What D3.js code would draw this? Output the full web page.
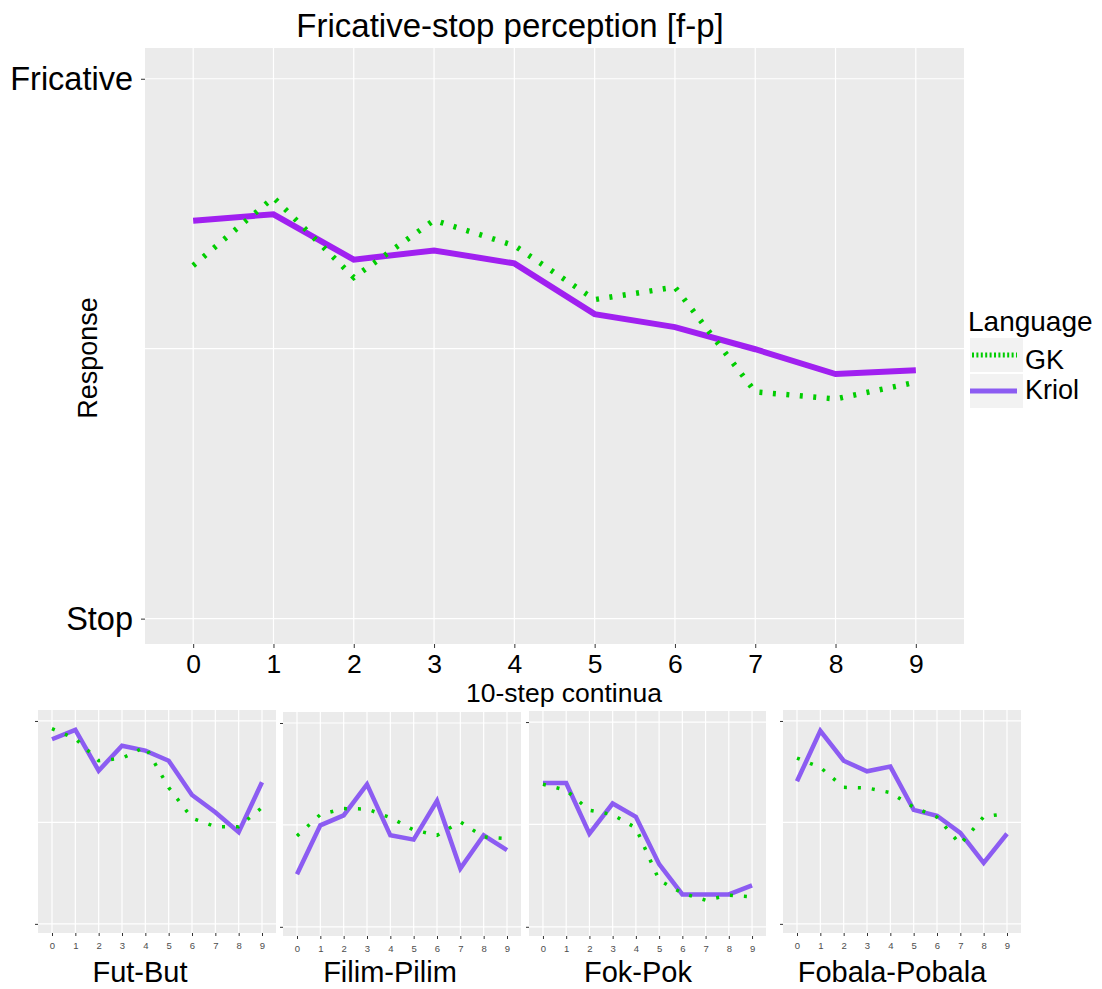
<!DOCTYPE html>
<html lang="en">
<head>
<meta charset="UTF-8">
<title>Fricative-stop perception [f-p]</title>
<style>
    body {
        margin: 0;
        background: #fff;
        font-family: "Liberation Sans", Arial, sans-serif;
    }

    .panel-bg {
        fill: #ebebeb;
    }

    .grid line {
        stroke: #fff;
        stroke-width: 1.2;
    }

    .axis .domain {
        display: none;
    }

    .axis .tick line {
        stroke: #333;
    }
</style>
</head>
<body>
<div id="chart"></div>
<script src="https://d3js.org/d3.v7.min.js"></script>
<script>
    // continuum steps and y labels
    const steps = [0, 1, 2, 3, 4, 5, 6, 7, 8, 9];
    const yBreaks = [0, 1];
    const yBreakLabels = ["Stop", "Fricative"];
    const yGrid = [0, 0.5, 1];
    const languages = ["GK", "Kriol"];

    // main panel, pooled over the four continua
    const mainGK    = [0.654, 0.780, 0.632, 0.738, 0.691, 0.591, 0.614, 0.420, 0.407, 0.438];
    const mainKriol = [0.737, 0.749, 0.665, 0.682, 0.658, 0.564, 0.540, 0.499, 0.453, 0.460];

    // small panels
    const futButGK      = [0.962, 0.913, 0.804, 0.816, 0.873, 0.672, 0.521, 0.479, 0.479, 0.573];
    const futButKriol   = [0.910, 0.956, 0.755, 0.878, 0.854, 0.804, 0.635, 0.550, 0.452, 0.698];
    const filimGK       = [0.446, 0.551, 0.580, 0.578, 0.536, 0.475, 0.449, 0.515, 0.441, 0.433];
    const filimKriol    = [0.258, 0.498, 0.547, 0.699, 0.449, 0.428, 0.618, 0.286, 0.449, 0.376];
    const fokPokGK      = [0.696, 0.667, 0.569, 0.548, 0.483, 0.228, 0.164, 0.130, 0.154, 0.146];
    const fokPokKriol   = [0.702, 0.702, 0.455, 0.602, 0.537, 0.306, 0.158, 0.158, 0.158, 0.202];
    const fobalaGK      = [0.817, 0.771, 0.673, 0.670, 0.647, 0.575, 0.526, 0.392, 0.528, 0.544];
    const fobalaKriol   = [0.703, 0.951, 0.804, 0.752, 0.775, 0.562, 0.533, 0.448, 0.301, 0.444];

    const smallTitles = ["Fut-But", "Filim-Pilim", "Fok-Pok", "Fobala-Pobala"];

    const green = "#00cd00";
    const purple = "#a020f0";
    const lightPurple = "#8c5cf2";

    const width = 1102;
    const height = 989;

    const svg = d3.select('#chart')
        .append('svg')
        .attr('width', width)
        .attr('height', height);

    const drawPanel = (box, gk, kriol, opts) => {
        const x = d3.scaleLinear()
            .domain([-0.6, 9.6])
            .range([box.left, box.left + box.width]);
        const y = d3.scaleLinear()
            .domain([-opts.padBottom, 1 + opts.padTop])
            .range([box.top + box.height, box.top]);

        svg.append('rect')
            .attr('class', 'panel-bg')
            .attr('x', box.left)
            .attr('y', box.top)
            .attr('width', box.width)
            .attr('height', box.height);

        const grid = svg.append('g').attr('class', 'grid');
        grid.selectAll('.vg')
            .data(steps)
            .enter()
            .append('line')
            .attr('x1', d => x(d))
            .attr('x2', d => x(d))
            .attr('y1', box.top)
            .attr('y2', box.top + box.height);
        grid.selectAll('.hg')
            .data(yGrid)
            .enter()
            .append('line')
            .attr('x1', box.left)
            .attr('x2', box.left + box.width)
            .attr('y1', d => y(d))
            .attr('y2', d => y(d));

        // axes
        const xAxis = d3.axisBottom(x)
            .tickValues(steps)
            .tickFormat(d3.format('d'))
            .tickSize(opts.tickSize)
            .tickPadding(opts.xPad);
        const gx = svg.append('g')
            .attr('class', 'axis')
            .attr('transform', `translate(0, ${box.top + box.height})`)
            .call(xAxis);
        gx.selectAll('text')
            .style('font-family', '"Liberation Sans", Arial, sans-serif')
            .style('font-size', opts.xFont + 'px')
            .attr('fill', opts.xColor);

        const yAxis = d3.axisLeft(y)
            .tickValues(yBreaks)
            .tickFormat((d, i) => opts.yLabels ? yBreakLabels[i] : "")
            .tickSize(opts.tickSize)
            .tickPadding(8);
        const gy = svg.append('g')
            .attr('class', 'axis')
            .attr('transform', `translate(${box.left}, 0)`)
            .call(yAxis);
        gy.selectAll('text')
            .style('font-family', '"Liberation Sans", Arial, sans-serif')
            .style('font-size', '32.5px')
            .attr('fill', '#000');

        const line = d3.line()
            .x((d, i) => x(steps[i]))
            .y(d => y(d));

        svg.append('path')
            .datum(kriol)
            .attr('d', line)
            .attr('fill', 'none')
            .attr('stroke', opts.kriolColor)
            .attr('stroke-width', opts.kriolWidth);

        svg.append('path')
            .datum(gk)
            .attr('d', line)
            .attr('fill', 'none')
            .attr('stroke', green)
            .attr('stroke-width', opts.gkWidth)
            .attr('stroke-dasharray', opts.gkDash);

        return { x, y };
    };

    // main panel
    drawPanel({ left: 145, top: 48, width: 819, height: 596 }, mainGK, mainKriol, {
        padTop: 0.057, padBottom: 0.047,
        tickSize: 4, xPad: 6, xFont: 26.5, xColor: '#000', yLabels: true,
        kriolColor: purple, kriolWidth: 6,
        gkWidth: 5.5, gkDash: '3,10.5'
    });

    svg.append('text')
        .attr('x', 510)
        .attr('y', 37)
        .attr('text-anchor', 'middle')
        .style('font-size', '33px')
        .text('Fricative-stop perception [f-p]');

    svg.append('text')
        .attr('x', 564)
        .attr('y', 702)
        .attr('text-anchor', 'middle')
        .style('font-size', '26.5px')
        .text('10-step continua');

    svg.append('text')
        .attr('transform', 'translate(97, 358) rotate(-90)')
        .attr('text-anchor', 'middle')
        .style('font-size', '27px')
        .text('Response');

    // legend
    const legend = svg.append('g');
    legend.append('text')
        .attr('x', 968)
        .attr('y', 331)
        .style('font-size', '28px')
        .text('Language');

    const keys = legend.selectAll('.key')
        .data(languages)
        .enter()
        .append('g')
        .attr('transform', (d, i) => `translate(970, ${338 + i * 36})`);
    keys.append('rect')
        .attr('width', 53)
        .attr('height', 34)
        .attr('fill', '#f2f2f2');
    keys.append('line')
        .attr('x1', (d, i) => i === 0 ? 2 : 0)
        .attr('x2', 47)
        .attr('y1', 17)
        .attr('y2', 17)
        .attr('stroke', d => d === 'GK' ? green : lightPurple)
        .attr('stroke-width', 5)
        .attr('stroke-dasharray', d => d === 'GK' ? '2,2.4' : null);
    keys.append('text')
        .attr('x', 55)
        .attr('y', (d, i) => i === 0 ? 31 : 25)
        .style('font-size', '27px')
        .text(d => d);

    // small panels
    const smallBoxes = [
        { left: 38, top: 710, width: 238, height: 223 },
        { left: 283, top: 712, width: 238, height: 224 },
        { left: 529, top: 711, width: 237, height: 225 },
        { left: 783, top: 710, width: 238, height: 223 }
    ];
    const smallTitleX = [140, 390, 638, 892];
    const smallData = [
        [futButGK, futButKriol],
        [filimGK, filimKriol],
        [fokPokGK, fokPokKriol],
        [fobalaGK, fobalaKriol]
    ];

    smallBoxes.forEach((box, i) => {
        drawPanel(box, smallData[i][0], smallData[i][1], {
            padTop: 0.054, padBottom: 0.045,
            tickSize: 3, xPad: 6, xFont: 9.5, xColor: '#4d4d4d', yLabels: false,
            kriolColor: lightPurple, kriolWidth: 4.5,
            gkWidth: 3.5, gkDash: '3,11'
        });

        svg.append('text')
            .attr('x', smallTitleX[i])
            .attr('y', 982)
            .attr('text-anchor', 'middle')
            .style('font-size', '29px')
            .text(smallTitles[i]);
    });
</script>
</body>
</html>
